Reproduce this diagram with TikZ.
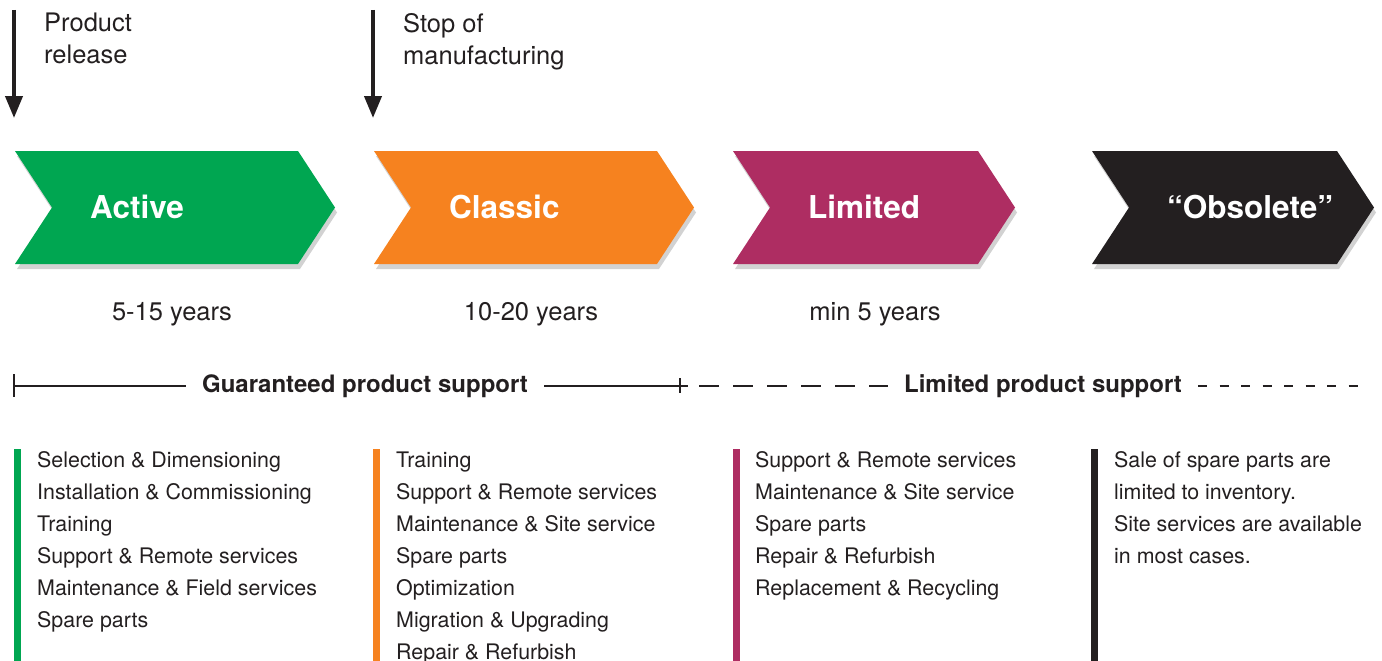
\documentclass[tikz,border=0pt]{standalone}
\usepackage{fontspec}
\setmainfont{TeX Gyre Heros}
\usetikzlibrary{arrows.meta, positioning, calc}
\definecolor{activegreen}{RGB}{0,166,81}
\definecolor{classicorange}{RGB}{246,130,31}
\definecolor{limitedpurple}{RGB}{174,45,98}
\definecolor{obsoleteblack}{RGB}{35,31,32}
\definecolor{inkgray}{RGB}{35,31,32}
\newcommand{\Fs}[2]{\fontsize{#1}{#2}\selectfont}
\tikzset{
    phase/.style={anchor=base west, inner sep=0pt, text=white, font=\Fs{31.5}{38}\bfseries},
    years/.style={anchor=base, inner sep=0pt, text=inkgray, font=\Fs{25.5}{32}},
    milestone/.style={anchor=north west, inner sep=0pt, align=left, text=inkgray, font=\Fs{25.5}{32}},
    support/.style={inner ysep=0pt, inner xsep=16pt, text=inkgray, font=\Fs{24}{28}\bfseries},
    services/.style={anchor=north west, inner sep=0pt, align=left, text=inkgray, font=\Fs{21.4}{32}},
    event/.style={line width=4pt, draw=inkgray, -{Triangle[width=17pt, length=22pt]}},
    rule/.style={line width=2.2pt, draw=inkgray},
}

\begin{document}
\begin{tikzpicture}[x=1pt, y={(0pt,-1pt)}]
    \useasboundingbox (0,0) rectangle (1382,661);

    % milestones
    \coordinate (releasetop) at (14,10);
    \coordinate (release) at (14,118);
    \coordinate (stoptop) at (373,10);
    \coordinate (stop) at (373,118);
    \draw[event] (releasetop) -- (release);
    \draw[event] (stoptop) -- (stop);
    \node[milestone] (releasetext) at (44,13) {Product\\release};
    \node[milestone] (stoptext) at (403,13) {Stop of\\manufacturing};

    % phases
    \foreach \x/\w/\col/\name/\txt in {15/283/activegreen/active/Active,
        374/283/classicorange/classic/Classic,
        733/245/limitedpurple/limited/Limited,
        1092/245/obsoleteblack/obsolete/“Obsolete”}{
      \fill[gray!35, shift={(2,5)}] (\x,151) -- ++(\w,0) -- ++(37,56.5) -- ++(-37,56.5)
        -- ++(-\w,0) -- ++(37,-56.5) -- cycle;
      \fill[\col] (\x,151) -- ++(\w,0) -- ++(37,56.5) -- ++(-37,56.5)
        -- ++(-\w,0) -- ++(37,-56.5) -- cycle;
      \node[phase] (\name) at (\x+75,218) {\txt};
    }

    \node[years] (activeyears) at (172,320) {5-15 years};
    \node[years] (classicyears) at (531,320) {10-20 years};
    \node[years] (limitedyears) at (875,320) {min 5 years};

    % support line
    \node[support] (guaranteed) at (365,386) {Guaranteed product support};
    \node[support] (limitedsupport) at (1043,386) {Limited product support};
    \coordinate (gstart) at (14,386);
    \coordinate (gend) at (688,386);
    \coordinate (lstart) at (699,386);
    \coordinate (lend) at (1360,386);
    \draw[rule] (14,374) -- (14,397);
    \draw[rule] (680,378) -- (680,393);
    \draw[rule] (gstart) -- (guaranteed.west);
    \draw[rule] (guaranteed.east) -- (gend);
    \draw[rule, dash pattern=on 20pt off 14pt] (lstart) -- (limitedsupport.west);
    \draw[rule, dash pattern=on 9pt off 12.5pt] (limitedsupport.east) -- (lend);

    % service lists
    \fill[activegreen] (14,449) rectangle (21,661);
    \fill[classicorange] (373,449) rectangle (380,661);
    \fill[limitedpurple] (733,449) rectangle (740,661);
    \fill[obsoleteblack] (1091,449) rectangle (1098,661);

    \node[services] (activelist) at (37,451) {Selection \& Dimensioning\\
      Installation \& Commissioning\\Training\\Support \& Remote services\\
      Maintenance \& Field services\\Spare parts};
    \node[services] (classiclist) at (396,452) {Training\\Support \& Remote services\\
      Maintenance \& Site service\\Spare parts\\Optimization\\
      Migration \& Upgrading\\Repair \& Refurbish};
    \node[services] (limitedlist) at (755,451) {Support \& Remote services\\
      Maintenance \& Site service\\Spare parts\\Repair \& Refurbish\\
      Replacement \& Recycling};
    \node[services] (obsoletelist) at (1114,451) {Sale of spare parts are\\
      limited to inventory.\\Site services are available\\in most cases.};
\end{tikzpicture}
\end{document}
